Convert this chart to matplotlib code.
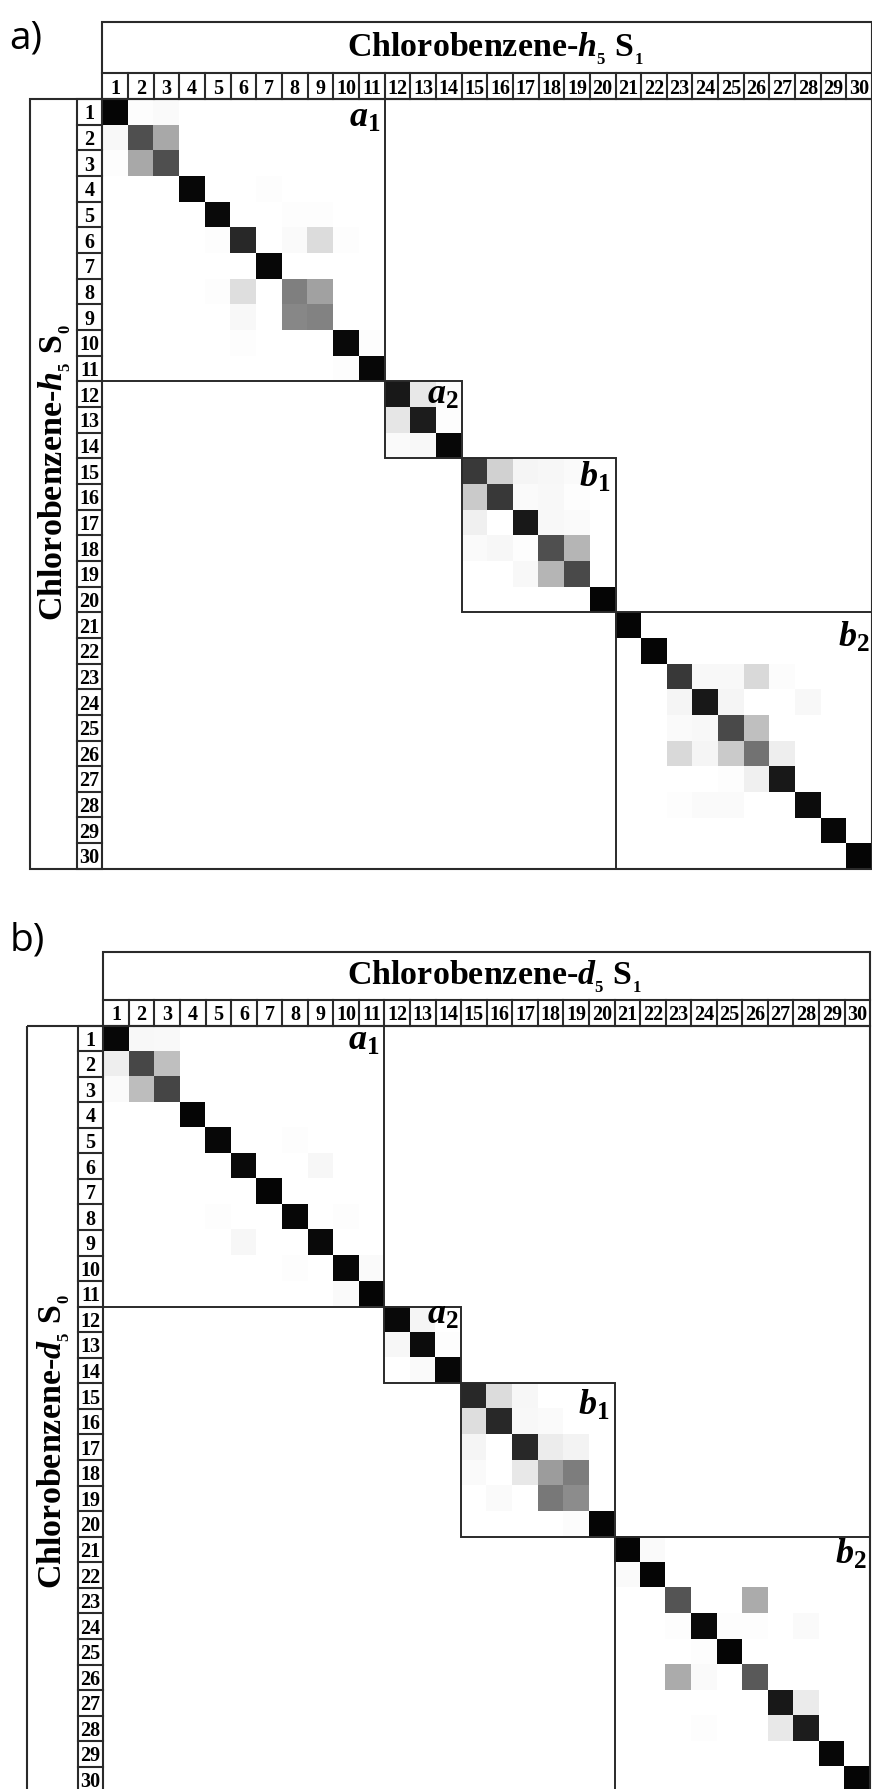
import numpy as np
import matplotlib
matplotlib.use('Agg')
import matplotlib.pyplot as plt
from matplotlib.patches import Rectangle

plt.rcParams['font.family'] = ['Liberation Serif', 'DejaVu Serif']
plt.rcParams['mathtext.fontset'] = 'custom'
plt.rcParams['mathtext.rm'] = 'Liberation Serif:bold'
plt.rcParams['mathtext.it'] = 'Liberation Serif:bold:italic'
plt.rcParams['mathtext.bf'] = 'Liberation Serif:bold'

N = 30
state_labels = [str(i) for i in range(1, N + 1)]

# blocks (first state, last state) and their names
blocks = [(1, 11), (12, 14), (15, 20), (21, 30)]
block_names = [r'$a_1$', r'$a_2$', r'$b_1$', r'$b_2$']

# chlorobenzene-h5: diagonal overlaps and off-diagonal entries (row, col, value)
h5_diag = [0.98, 0.69, 0.69, 0.97, 0.96, 0.84, 0.97, 0.50, 0.49, 0.96,
           0.97, 0.90, 0.89, 0.97, 0.77, 0.78, 0.90, 0.69, 0.71, 0.98,
           0.98, 0.98, 0.78, 0.90, 0.71, 0.55, 0.90, 0.95, 0.97, 0.98]
h5_rows = [1, 1, 2, 2, 3, 3, 4, 5, 5, 6, 6, 6, 6, 8, 8, 8, 9, 9, 10, 10, 11,
           12, 12, 13, 13, 14, 14,
           15, 15, 15, 15, 16, 16, 16, 16, 17, 17, 17, 18, 18, 18, 18, 19, 19,
           23, 23, 23, 23, 24, 24, 24, 25, 25, 25, 26, 26, 26, 26, 27, 27, 28, 28, 28]
h5_cols = [2, 3, 1, 3, 1, 2, 7, 8, 9, 5, 8, 9, 10, 5, 6, 9, 6, 8, 6, 11, 10,
           13, 14, 12, 14, 12, 13,
           16, 17, 18, 19, 15, 17, 18, 19, 15, 18, 19, 15, 16, 17, 19, 17, 18,
           24, 25, 26, 27, 23, 25, 28, 23, 24, 26, 23, 24, 25, 27, 25, 26, 23, 24, 25]
h5_vals = [0.01, 0.02, 0.03, 0.34, 0.01, 0.34, 0.01, 0.01, 0.01, 0.01, 0.02, 0.14, 0.01,
           0.01, 0.13, 0.37, 0.03, 0.47, 0.01, 0.01, 0.01,
           0.09, 0.02, 0.10, 0.01, 0.02, 0.03,
           0.18, 0.04, 0.035, 0.02, 0.21, 0.02, 0.03, 0.01, 0.06, 0.03, 0.02,
           0.02, 0.035, 0.01, 0.29, 0.03, 0.29,
           0.03, 0.03, 0.15, 0.015, 0.04, 0.04, 0.03, 0.02, 0.03, 0.25,
           0.15, 0.04, 0.21, 0.07, 0.01, 0.06, 0.01, 0.02, 0.02]

# chlorobenzene-d5
d5_diag = [0.97, 0.72, 0.73, 0.98, 0.97, 0.96, 0.98, 0.97, 0.96, 0.97,
           0.98, 0.96, 0.95, 0.97, 0.84, 0.84, 0.84, 0.39, 0.45, 0.98,
           0.98, 0.98, 0.67, 0.96, 0.98, 0.65, 0.90, 0.89, 0.97, 0.98]
d5_rows = [1, 1, 2, 2, 3, 3, 5, 6, 8, 8, 9, 10, 10, 11,
           12, 13, 13, 14,
           15, 15, 16, 16, 16, 17, 17, 17, 18, 18, 18, 19, 19, 20,
           21, 22, 23, 24, 24, 24, 24, 25, 26, 26, 27, 28, 28]
d5_cols = [2, 3, 1, 3, 1, 2, 8, 9, 5, 10, 6, 8, 11, 10,
           13, 12, 14, 13,
           16, 17, 15, 17, 18, 15, 18, 19, 15, 17, 19, 16, 18, 19,
           22, 21, 26, 23, 25, 26, 28, 24, 23, 24, 28, 24, 27]
d5_vals = [0.03, 0.025, 0.07, 0.25, 0.02, 0.26, 0.01, 0.035, 0.01, 0.01, 0.035, 0.01, 0.02, 0.02,
           0.04, 0.035, 0.01, 0.02,
           0.14, 0.035, 0.13, 0.03, 0.02, 0.04, 0.075, 0.05, 0.02, 0.09, 0.51, 0.02, 0.53, 0.015,
           0.02, 0.02, 0.33, 0.01, 0.01, 0.01, 0.02, 0.01, 0.33, 0.02, 0.08, 0.01, 0.09]

W, H = 872, 1789
LC = '#2a2a2a'


def build_matrix(diag, rows, cols, vals):
    m = np.zeros((N, N))
    m[np.arange(N), np.arange(N)] = diag
    m[np.array(rows) - 1, np.array(cols) - 1] = vals
    return m


def draw_panel(fig, mat, tag, iso, lower_state, x0, y0, cell, head, side,
               title_pos, side_pos, name_pos, tag_pos):
    left = x0 - side * cell
    right = x0 + N * cell
    top = y0 - (head + 1) * cell
    bottom = y0 + N * cell
    ax = fig.add_axes([left / W, 1 - bottom / H, (right - left) / W, (bottom - top) / H])
    ax.imshow(mat, cmap='gray_r', vmin=0, vmax=1, extent=(0, N, N, 0),
              interpolation='nearest', aspect='auto')
    ax.set_xlim(-side, N)
    ax.set_ylim(N, -(head + 1))
    ax.axis('off')

    lw = 1.5
    # header box with the numbered row
    ax.add_patch(Rectangle((0, -(head + 1)), N, head + 1, fill=False, lw=lw, ec=LC, clip_on=False))
    ax.plot([0, N], [-1, -1], lw=lw, color=LC, clip_on=False)
    for k in range(1, N):
        ax.plot([k, k], [-1, 0], lw=lw, color=LC, clip_on=False)
        ax.plot([-1, 0], [k, k], lw=lw, color=LC, clip_on=False)
    # row label column and outer box
    ax.add_patch(Rectangle((-1, 0), 1, N, fill=False, lw=lw, ec=LC, clip_on=False))
    ax.add_patch(Rectangle((-side, 0), side + N, N, fill=False, lw=lw, ec=LC, clip_on=False))

    for k, lab in enumerate(state_labels):
        ax.text(k + 0.5, -0.5, lab, ha='center', va='center_baseline',
                fontsize=14.5, fontweight='bold')
        ax.text(-0.5, k + 0.5, lab, ha='center', va='center_baseline',
                fontsize=14.5, fontweight='bold')

    # blocks
    for (a, b), name, (px, py) in zip(blocks, block_names, name_pos):
        ax.add_patch(Rectangle((a - 1, a - 1), b - a + 1, b - a + 1, fill=False,
                               lw=1.4, ec=LC, clip_on=False))
        ax.text(px, py, name, ha='right', va='baseline', fontsize=26)

    ax.text(title_pos[0], title_pos[1], 'Chlorobenzene-$' + iso + r'_{_5}$ S$_{_1}$',
            ha='center', va='baseline', fontsize=24.5, fontweight='bold')
    ax.text(side_pos[0], side_pos[1],
            'Chlorobenzene-$' + iso + r'_{_5}$ S$_{_' + lower_state + '}$',
            ha='center', va='baseline', rotation=90, rotation_mode='anchor',
            fontsize=24.5, fontweight='bold')

    fig.text(tag_pos[0] / W, 1 - tag_pos[1] / H, tag, ha='left', va='center',
             fontsize=28, family='Open Sans')


fig = plt.figure(figsize=(W / 100, H / 100), dpi=100)

mat_h5 = build_matrix(h5_diag, h5_rows, h5_cols, h5_vals)
mat_d5 = build_matrix(d5_diag, d5_rows, d5_cols, d5_vals)

draw_panel(fig, mat_h5, 'a)', 'h', '0', 102.3, 99.0, 25.66, 2.0, 2.82,
           (15.3, -1.64), (-1.53, 14.57),
           [(10.82, 1.08), (13.88, 11.87), (19.78, 15.12), (29.92, 21.35)], (9, 38))
draw_panel(fig, mat_d5, 'b)', 'd', '0', 103.3, 1025.5, 25.56, 1.875, 2.97,
           (15.3, -1.6), (-1.61, 16.27),
           [(10.81, 0.94), (13.9, 11.68), (19.79, 15.23), (29.87, 21.05)], (10, 940))

fig.savefig('out.png', dpi=100)
